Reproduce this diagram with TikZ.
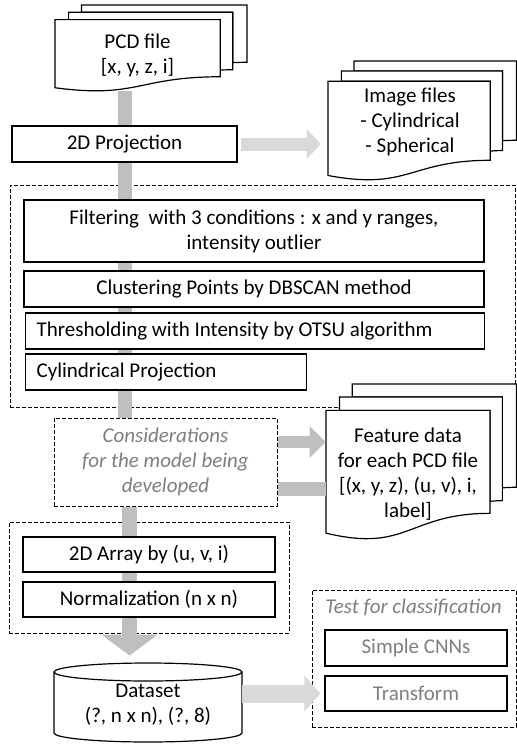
\documentclass[tikz,border=0pt]{standalone}
\usepackage{fontspec}
\setmainfont{Carlito}
\usepackage{xcolor}
\usepackage{tikz}
\usetikzlibrary{arrows.meta, calc, backgrounds}

\definecolor{trunkGray}{HTML}{BFBFBF}
\definecolor{paleGray}{HTML}{D9D9D9}
\definecolor{noteGray}{HTML}{7F7F7F}

\begin{document}
\begin{tikzpicture}[
    x=0.5pt, y=-0.5pt,
    font=\fontsize{10.5}{12.5}\selectfont,
    stepbox/.style={draw, line width=0.6pt, fill=white, minimum height=18pt, inner sep=2pt, align=center},
    leftbox/.style={stepbox, align=flush left, inner xsep=5.5pt, anchor=west},
    group/.style={draw, line width=0.5pt, dash pattern=on 2pt off 1pt, inner sep=0pt},
    note/.style={text=noteGray, font=\fontsize{10.5}{12.5}\selectfont\itshape},
    doctext/.style={inner sep=0pt, align=center, minimum width=82pt},
    docline/.style={draw, line width=0.6pt, fill=white},
    trunk/.style={draw=trunkGray, line width=7pt},
    blockarrow/.style n args={3}{line width=#1, -{Triangle[length=#2 0, width=#3 0]}},
    docstack/.pic={
      \draw[docline] (13.76,8.40) -- (13.76,0) -- (100,0) -- (100,66.63) .. controls (96.30,66.63) and (92.59,66.98) .. (92.59,66.98) -- (92.59,8.40) -- cycle;
      \draw[docline] (7.09,17.01) -- (7.09,8.40) -- (92.59,8.40) -- (92.59,75.24) .. controls (89.34,75.24) and (86.09,75.70) .. (86.09,75.70) -- (86.09,17.01) -- cycle;
      \draw[docline] (0,96.21) .. controls (43.05,108.99) and (43.05,83.44) .. (86.09,83.44) -- (86.09,17.01) -- (0,17.01) -- cycle;
    }
]
\useasboundingbox (0,0) rectangle (517,744);

% Input files
\pic[xscale=1.92, yscale=0.86] at (55,5) {docstack};
\node[doctext, minimum height=36pt] (pcd) at (137.5,55) {PCD file\\{[x, y, z, i]}};

\node[stepbox, minimum width=112.5pt] (proj) at (124.5,144) {2D Projection};

\pic[xscale=1.885, yscale=1.19] at (328,61) {docstack};
\node[doctext] (img) at (410,122) {Image files\\- Cylindrical\\- Spherical};

% Preprocessing steps
\node[stepbox, minimum width=230pt, minimum height=31pt] (filt) at (254,231)
  {Filtering~ with 3 conditions : x and y ranges,\\intensity outlier};
\node[stepbox, minimum width=230pt] (clus) at (254,289) {Clustering Points by DBSCAN method};
\node[leftbox, text width=218.5pt] (thr) at (25,331) {Thresholding with Intensity by OTSU algorithm};
\node[leftbox, text width=129.5pt] (cylp) at (25,372) {Cylindrical Projection};

\node[group, fill=white, note, align=center, minimum width=111.5pt, minimum height=44pt] (cons) at (165.5,462)
  {Considerations\\for the model being\\developed};

\pic[xscale=1.905, yscale=1.55] at (326,384) {docstack};
\node[doctext] (feat) at (408,474.5) {Feature data\\for each PCD file\\{[(x, y, z), (u, v), i,}\\label]};

% Array building
\node[stepbox, minimum width=126pt, minimum height=17.5pt] (arr) at (149,554.5) {2D Array by (u, v, i)};
\node[stepbox, minimum width=126pt, minimum height=17.5pt] (norm) at (149,599.5) {Normalization (n x n)};

% Dataset
\draw[docline] (54,672) -- (54,733) arc[start angle=180, end angle=0, x radius=94, y radius=9]
  -- (242,672) arc[start angle=0, end angle=-180, x radius=94, y radius=9] -- cycle;
\draw[line width=0.6pt] (54,672) arc[start angle=180, end angle=0, x radius=94, y radius=9];
\node[doctext, minimum width=94pt, minimum height=40pt] (data) at (148,705) {Dataset\\(?, n x n), (?, 8)};

% Classification tests
\node[note, anchor=west, inner sep=0pt] (testlbl) at (325,607) {Test for classification};
\node[stepbox, text=noteGray, minimum width=91pt] (cnn) at (416,648) {Simple CNNs};
\node[stepbox, text=noteGray, minimum width=91pt, minimum height=17.5pt] (trans) at (416,693.5) {Transform};

\begin{scope}[on background layer]
  \node[group, minimum width=252.5pt, minimum height=111pt] (prepgrp) at (262.5,296) {};
  \node[group, minimum width=140pt, minimum height=55.5pt] (arraygrp) at (149,577.5) {};
  \node[group, minimum width=102pt, minimum height=68.5pt] (testgrp) at (414,658.5) {};
  \draw[trunk] (pcd.south -| proj.center) -- (cons.north -| proj.center);
  \draw[blockarrow={7.5pt}{10.5pt}{27.5pt}, draw=trunkGray, shorten >=4.5pt]
    ($(cons.south)+(-36,0)$) -- ($(cons.south |- data.north)+(-36,0)$);
\end{scope}

\draw[blockarrow={6.5pt}{7pt}{15pt}, draw=paleGray, shorten <=1.5pt, shorten >=3.5pt] (proj.east) -- (proj.east -| img.west);
\draw[blockarrow={6pt}{8pt}{15.5pt}, draw=trunkGray] ($(cons.east)+(0,-20)$) -- ($(cons.east -| feat.west)+(0,-20)$);
\draw[trunk] ($(cons.east)+(0,27)$) -- ($(cons.east -| feat.west)+(0,27)$);
\draw[blockarrow={9pt}{8pt}{17.5pt}, draw=paleGray, shorten >=2pt] (trans.west -| data.east) -- (trans.west);
\end{tikzpicture}
\end{document}
